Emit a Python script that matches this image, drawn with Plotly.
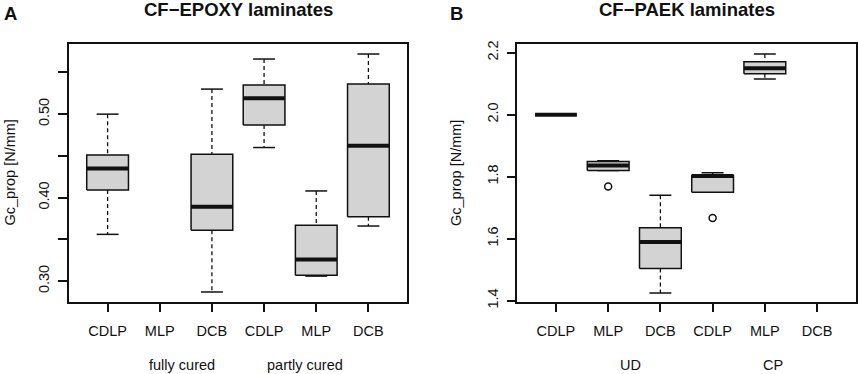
import plotly.graph_objects as go

# ---------------- data ----------------
categories = ["CDLP", "MLP", "DCB", "CDLP", "MLP", "DCB"]

# Panel A: CF-EPOXY (None = no data)
epoxy_low = [0.356, None, 0.287, 0.460, 0.306, 0.366]
epoxy_q1 = [0.409, None, 0.361, 0.487, 0.307, 0.377]
epoxy_med = [0.435, None, 0.389, 0.519, 0.326, 0.462]
epoxy_q3 = [0.451, None, 0.452, 0.535, 0.367, 0.536]
epoxy_high = [0.500, None, 0.530, 0.566, 0.408, 0.572]
epoxy_out_x = []
epoxy_out_y = []
epoxy_groups = ["fully cured", "partly cured"]

# Panel B: CF-PAEK
paek_low = [2.000, 1.820, 1.425, 1.750, 2.115, None]
paek_q1 = [2.000, 1.820, 1.504, 1.750, 2.132, None]
paek_med = [2.000, 1.836, 1.589, 1.802, 2.150, None]
paek_q3 = [2.000, 1.849, 1.635, 1.804, 2.171, None]
paek_high = [2.000, 1.851, 1.740, 1.813, 2.196, None]
paek_out_x = [2, 4]
paek_out_y = [1.768, 1.667]
paek_groups = ["UD", "CP"]

W, H = 858, 374
FONT = "Liberation Sans, Arial, sans-serif"
INK = "#111111"
FILL = "#D3D3D3"
BOXW = 0.8
CAPW = 0.42

fig = go.Figure()


def add_panel(xa, ya, low, q1, med, q3, high, ox, oy):
    for i in range(len(categories)):
        if med[i] is None:
            continue
        x = i + 1
        xl, xr = x - BOXW / 2, x + BOXW / 2
        # whiskers (dashed)
        for a, b in ((high[i], q3[i]), (q1[i], low[i])):
            if abs(a - b) > 1e-9:
                fig.add_trace(go.Scatter(x=[x, x], y=[a, b], mode="lines",
                                         line=dict(color=INK, width=1.3, dash="4px,3px"),
                                         xaxis=xa, yaxis=ya, showlegend=False, hoverinfo="skip"))
        # caps
        for v in (low[i], high[i]):
            fig.add_trace(go.Scatter(x=[x - CAPW / 2, x + CAPW / 2], y=[v, v], mode="lines",
                                     line=dict(color=INK, width=1.5),
                                     xaxis=xa, yaxis=ya, showlegend=False, hoverinfo="skip"))
        # box
        fig.add_trace(go.Scatter(x=[xl, xr, xr, xl, xl], y=[q1[i], q1[i], q3[i], q3[i], q1[i]],
                                 mode="lines", fill="toself", fillcolor=FILL,
                                 line=dict(color=INK, width=1.5),
                                 xaxis=xa, yaxis=ya, showlegend=False, hoverinfo="skip"))
        # median
        fig.add_trace(go.Scatter(x=[xl, xr], y=[med[i], med[i]], mode="lines",
                                 line=dict(color=INK, width=4),
                                 xaxis=xa, yaxis=ya, showlegend=False, hoverinfo="skip"))
    if ox:
        fig.add_trace(go.Scatter(x=ox, y=oy, mode="markers",
                                 marker=dict(symbol="circle-open", size=7, color=INK,
                                             line=dict(width=1.5, color=INK)),
                                 xaxis=xa, yaxis=ya, showlegend=False, hoverinfo="skip"))


add_panel("x", "y", epoxy_low, epoxy_q1, epoxy_med, epoxy_q3, epoxy_high, epoxy_out_x, epoxy_out_y)
add_panel("x2", "y2", paek_low, paek_q1, paek_med, paek_q3, paek_high, paek_out_x, paek_out_y)

yb, yt = (374 - 302) / H, (374 - 44) / H
xcommon = dict(range=[0.26, 6.74], tickmode="array", tickvals=[1, 2, 3, 4, 5, 6],
               ticktext=categories, ticks="outside", ticklen=8, tickwidth=1.5, tickcolor=INK,
               showline=True, linewidth=1.5, linecolor=INK, mirror=True, showgrid=False,
               zeroline=False, tickfont=dict(family=FONT, size=14.5, color=INK),
               ticklabelstandoff=7, fixedrange=True, automargin=False)
ycommon = dict(ticks="outside", ticklen=9, tickwidth=1.5, tickcolor=INK, tickangle=-90,
               showline=True, linewidth=1.5, linecolor=INK, mirror=True, showgrid=False,
               zeroline=False, tickfont=dict(family=FONT, size=14.5, color=INK),
               ticklabelstandoff=3, fixedrange=True, automargin=False)

fig.update_layout(
    template="none",
    width=W, height=H, margin=dict(l=0, r=0, t=0, b=0, pad=0),
    paper_bgcolor="white", plot_bgcolor="white",
    xaxis=dict(domain=[69 / W, 407 / W], anchor="y", **xcommon),
    yaxis=dict(domain=[yb, yt], anchor="x", range=[0.275, 0.584],
               tickvals=[0.30, 0.35, 0.40, 0.45, 0.50, 0.55],
               ticktext=["0.30", "", "0.40", "", "0.50", ""], **ycommon),
    xaxis2=dict(domain=[517.3 / W, 855.7 / W], anchor="y2", **xcommon),
    yaxis2=dict(domain=[yb, yt], anchor="x2", range=[1.3957, 2.228],
                tickvals=[1.4, 1.6, 1.8, 2.0, 2.2],
                ticktext=["1.4", "1.6", "1.8", "2.0", "2.2"], **ycommon),
    font=dict(family=FONT, color=INK),
)

ann = []
# titles and panel letters
ann.append(dict(text="<b>CF\u2212EPOXY laminates</b>", x=238 / W, y=1 - 10 / H, xref="paper", yref="paper",
                showarrow=False, font=dict(size=18.5, family=FONT, color=INK), xanchor="center", yanchor="middle"))
ann.append(dict(text="<b>CF\u2212PAEK laminates</b>", x=686.5 / W, y=1 - 10 / H, xref="paper", yref="paper",
                showarrow=False, font=dict(size=18.5, family=FONT, color=INK), xanchor="center", yanchor="middle"))
ann.append(dict(text="<b>A</b>", x=10.5 / W, y=1 - 13 / H, xref="paper", yref="paper",
                showarrow=False, font=dict(size=18.5, family=FONT, color=INK), xanchor="center", yanchor="middle"))
ann.append(dict(text="<b>B</b>", x=456.5 / W, y=1 - 13 / H, xref="paper", yref="paper",
                showarrow=False, font=dict(size=18.5, family=FONT, color=INK), xanchor="center", yanchor="middle"))
# y-axis labels
for xp in (9.5, 456):
    ann.append(dict(text="Gc_prop [N/mm]", x=xp / W, y=1 - 173 / H, xref="paper", yref="paper",
                    showarrow=False, textangle=-90, font=dict(size=14.5, family=FONT, color=INK),
                    xanchor="center", yanchor="middle"))
# group labels
for xr_, labs, pos in (("x", epoxy_groups, (2.42, 4.79)), ("x2", paek_groups, (2.42, 5.15))):
    for lab, p in zip(labs, pos):
        ann.append(dict(text=lab, x=p, y=1 - 365 / H, xref=xr_, yref="paper", showarrow=False,
                        font=dict(size=14.5, family=FONT, color=INK), xanchor="center", yanchor="middle"))
fig.update_layout(annotations=ann)

fig.write_html("out.html", config={"displayModeBar": False},
               post_script="document.body.style.margin='0';document.body.style.overflow='hidden';")
